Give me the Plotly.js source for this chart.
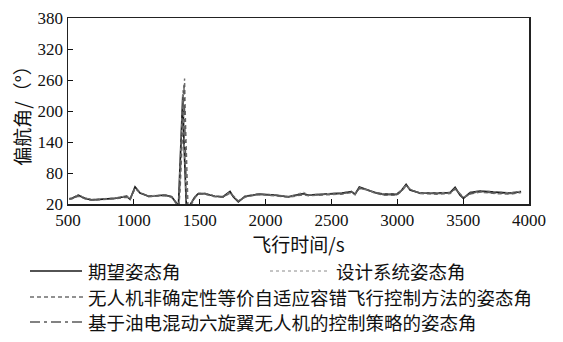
<!DOCTYPE html>
<html>
<head>
<meta charset="utf-8">
<script src="https://cdn.plot.ly/plotly-3.0.1.min.js"></script>
<style>html,body{margin:0;padding:0;background:#fff;}#chart{width:563px;height:342px;}</style>
</head>
<body>
<div id="chart"></div>
<script>
// flight time (s)
const time = [510, 530, 578, 630, 680, 756, 857, 946, 971, 1009, 1047, 1110, 1237, 1287, 1325, 1338, 1350, 1372, 1380, 1385, 1392, 1400, 1412, 1426, 1464, 1490, 1540, 1616, 1677, 1692, 1730, 1755, 1793, 1844, 1945, 2072, 2173, 2224, 2287, 2325, 2451, 2578, 2654, 2679, 2712, 2780, 2831, 2894, 2996, 3034, 3067, 3097, 3173, 3300, 3401, 3439, 3477, 3502, 3553, 3629, 3755, 3857, 3940];

// 期望姿态角
const desired = [30, 31, 37, 31, 28, 29, 31, 35, 29, 53, 41, 35, 37, 34, 21, 12, 88, 232, 145, 90, 15, 5, 5, 18, 34, 40, 40, 35, 34, 37, 44, 34, 24, 35, 39, 37, 34, 37, 40, 37, 39, 41, 44, 39, 53, 46, 42, 39, 39, 47, 58, 47, 41, 41, 42, 52, 37, 31, 42, 45, 42, 41, 44];
// 设计系统姿态角
const designed = [31, 32, 38, 32, 29, 30, 32, 36, 30, 52, 42, 36, 38, 35, 22, 13, 84, 240, 160, 100, 20, 6, 6, 19, 35, 41, 41, 36, 35, 38, 43, 35, 25, 36, 40, 38, 35, 38, 43, 38, 40, 42, 45, 40, 52, 47, 43, 40, 40, 48, 57, 48, 42, 42, 43, 51, 38, 32, 43, 46, 43, 42, 45];
// 无人机非确定性等价自适应容错飞行控制方法的姿态角
const method1 = [29, 30, 35, 30, 27, 28, 30, 33, 28, 50, 43, 34, 36, 33, 20, 8, 40, 170, 230, 263, 180, 90, 8, 14, 32, 39, 39, 34, 33, 35, 41, 36, 26, 33, 38, 36, 33, 35, 38, 36, 38, 39, 42, 38, 50, 47, 41, 37, 37, 45, 55, 49, 40, 39, 40, 49, 40, 33, 39, 43, 40, 39, 42];
// 基于油电混动六旋翼无人机的控制策略的姿态角
const method2 = [30, 31, 36, 31, 28, 29, 31, 34, 29, 51, 42, 35, 37, 34, 21, 10, 60, 210, 250, 200, 100, 30, 6, 16, 33, 40, 40, 35, 34, 36, 42, 35, 25, 34, 39, 37, 34, 36, 39, 37, 39, 40, 43, 39, 51, 46, 42, 38, 38, 46, 56, 48, 41, 40, 41, 50, 39, 32, 40, 44, 41, 40, 43];

const seriesNames = ['期望姿态角', '设计系统姿态角', '无人机非确定性等价自适应容错飞行控制方法的姿态角', '基于油电混动六旋翼无人机的控制策略的姿态角'];
const yTicks = [20, 80, 140, 200, 260, 320, 380];
const xTicks = [500, 1000, 1500, 2000, 2500, 3000, 3500, 4000];

const styles = [
  {color: '#1a1a1a', width: 1.7, dash: 'solid'},
  {color: '#8a8a8a', width: 1.0, dash: 'dot'},
  {color: '#6e6e6e', width: 1.4, dash: '4px,3px'},
  {color: '#5a5a5a', width: 1.4, dash: '10px,4px,3px,4px'}
];
const ys = [desired, designed, method1, method2];

const traces = ys.map((y, i) => ({
  x: time, y: y, type: 'scatter', mode: 'lines', name: seriesNames[i],
  line: styles[i], showlegend: false, hoverinfo: 'skip'
}));

// legend drawn in pixel positions converted to paper coords
const L = 68, R = 529, T = 18, B = 204;
const px = x => (x - L) / (R - L);
const py = y => (B - y) / (B - T);
const legendRows = [
  {x0: 30, x1: 82, y: 271, tx: 87, i: 0},
  {x0: 270, x1: 330, y: 271, tx: 335, i: 1},
  {x0: 30, x1: 83, y: 297, tx: 87, i: 2},
  {x0: 30, x1: 83, y: 322, tx: 87, i: 3}
];
const shapes = legendRows.map(r => ({
  type: 'line', xref: 'paper', yref: 'paper',
  x0: px(r.x0), x1: px(r.x1), y0: py(r.y), y1: py(r.y),
  line: styles[r.i]
}));
const annotations = legendRows.map(r => ({
  xref: 'paper', yref: 'paper', x: px(r.tx), y: py(r.y),
  xanchor: 'left', yanchor: 'middle', showarrow: false,
  text: seriesNames[r.i], borderpad: 0,
  font: {family: 'Noto Sans CJK SC', size: 18.5, color: '#111'}
}));

const tickFont = {family: 'Liberation Serif, Times New Roman, serif', size: 17, color: '#111'};
const layout = {
  width: 563, height: 342,
  margin: {l: L, r: 563 - R, t: T, b: 342 - B},
  paper_bgcolor: '#fff', plot_bgcolor: '#fff',
  showlegend: false,
  xaxis: {
    range: [500, 4000], tickvals: xTicks, ticktext: xTicks.map(String),
    ticks: 'inside', ticklen: 5, tickcolor: '#111', tickwidth: 1,
    showline: true, linecolor: '#222', linewidth: 1.5, mirror: true,
    showgrid: false, zeroline: false, tickfont: tickFont, automargin: false,
    title: {text: '飞行时间/s', font: {family: 'Noto Sans CJK SC', size: 19, color: '#111'}, standoff: 8}
  },
  yaxis: {
    range: [20, 380], tickvals: yTicks, ticktext: yTicks.map(String),
    ticks: 'inside', ticklen: 5, tickcolor: '#111', tickwidth: 1,
    showline: true, linecolor: '#222', linewidth: 1.5, mirror: true,
    showgrid: false, zeroline: false, tickfont: tickFont, automargin: false,
    title: {text: '偏航角/（°）', font: {family: 'Noto Sans CJK SC', size: 19, color: '#111'}, standoff: 2}
  },
  shapes: shapes,
  annotations: annotations
};

Plotly.newPlot('chart', traces, layout, {staticPlot: true, displayModeBar: false});
</script>
</body>
</html>
